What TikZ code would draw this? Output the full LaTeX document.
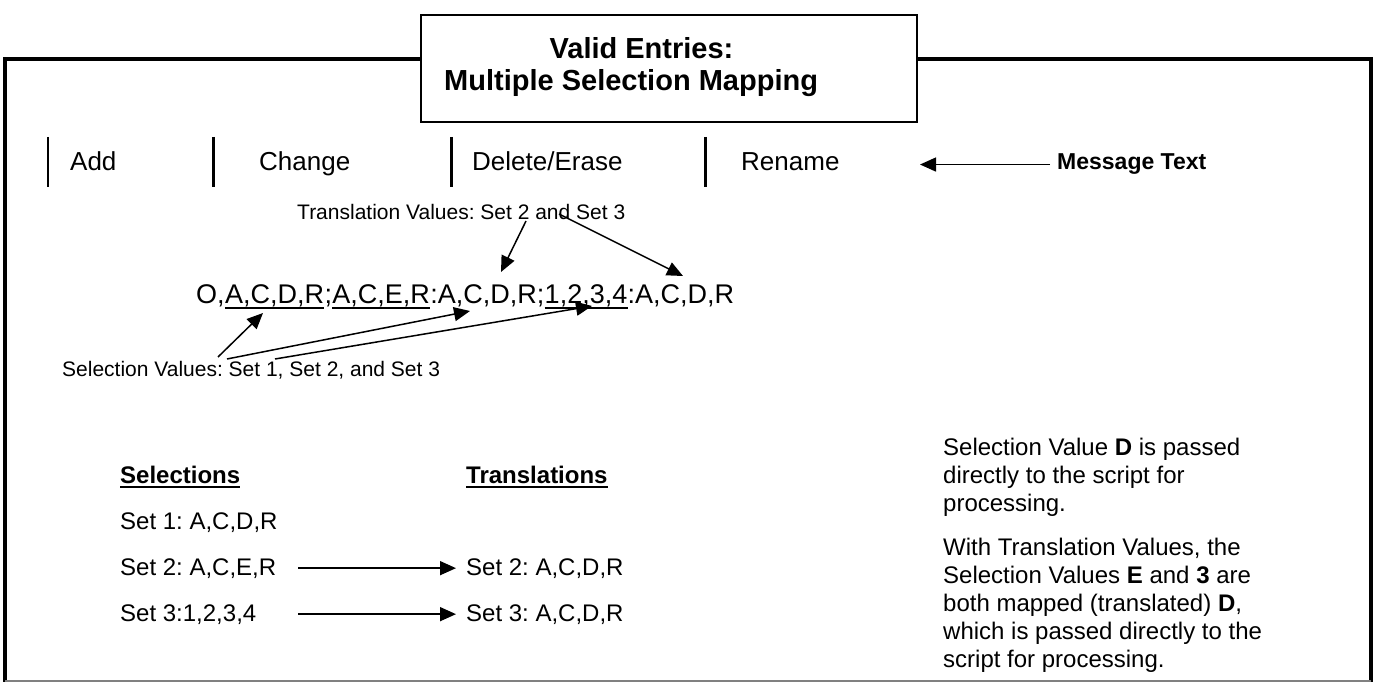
\documentclass[tikz,border=0pt]{standalone}
\usepackage{fontspec}
\setmainfont{Liberation Sans}
\usetikzlibrary{arrows.meta}
\frenchspacing
\begin{document}
\begin{tikzpicture}[x=1pt,y=-1pt,
  txt/.style={inner sep=0pt, anchor=base west},
  fml/.style={txt, font=\fontsize{27}{32}\selectfont},
  row/.style={txt, font=\fontsize{26}{31}\selectfont},
  lbl/.style={txt, font=\fontsize{21}{25}\selectfont},
  body/.style={txt, font=\fontsize{24}{28}\selectfont},
  ttl/.style={inner sep=0pt, anchor=base, font=\bfseries\fontsize{29}{33}\selectfont},
  arr/.style={-{Triangle[length=16pt,width=14pt]}, line width=1.5pt},
  frame/.style={line width=3.5pt},
  bar/.style={line width=3pt},
  uline/.style={line width=1.8pt}]
\useasboundingbox (0,0) rectangle (1377,682);
% outer frame
\draw[frame] (421,59) -- (5,59) -- (5,684);
\draw[frame] (917,59) -- (1371,59) -- (1371,684);
\draw[line width=1.5pt, gray] (5,681) -- (1371,681);
% title box
\node[draw, line width=2pt, fill=white, minimum width=496pt, minimum height=107pt, inner sep=0pt] (title) at (669,68.5) {};
\node[ttl] (t1) at (641.5,59) {Valid Entries:};
\node[ttl, anchor=base west] (t2) at (444,91) {Multiple Selection Mapping};
% top row
\draw[line width=2pt] (48,137) -- (48,187);
\draw[bar] (213,137) -- (213,187);
\draw[bar] (451,137) -- (451,187);
\draw[bar] (705,137) -- (705,187);
\node[row] (add) at (70,171) {Add};
\node[row] (chg) at (259,171) {Change};
\node[row] (del) at (472,171) {Delete/Erase};
\node[row] (ren) at (741,171) {Rename};
\node[txt, font=\bfseries\fontsize{23}{27}\selectfont] (msg) at (1057,170) {Message Text};
\coordinate (mtip) at (920,161);
\draw[arr] ([xshift=-7pt]msg.west) -- (mtip |- msg.west);
% translation label
\node[lbl] (tl) at (297,219) {Translation Values: Set 2 and Set 3};
% formula
\node[fml] (f1) at (196,303) {O,};
\node[fml] (f2) at (f1.base east) {A,C,D,R};
\node[fml] (f3) at (f2.base east) {;};
\node[fml] (f4) at (f3.base east) {A,C,E,R};
\node[fml] (f5) at (f4.base east) {:A,C,D,R;};
\node[fml] (f6) at (f5.base east) {1,2,3,4};
\node[fml] (f7) at (f6.base east) {:A,C,D,R};
\draw[uline] ([yshift=-5pt]f2.base west) -- ([yshift=-5pt]f2.base east);
\draw[uline] ([yshift=-5pt]f4.base west) -- ([yshift=-5pt]f4.base east);
\draw[uline] ([yshift=-5pt]f6.base west) -- ([yshift=-5pt]f6.base east);
% translation arrows
\coordinate (taS) at (526,221);
\coordinate (taT) at (501,272);
\coordinate (tbS) at (559,214);
\coordinate (tbT) at (683,276);
\draw[arr] (taS) -- (taT);
\draw[arr] (tbS) -- (tbT);
% selection label and arrows
\node[lbl] (sl) at (62,376) {Selection Values: Set 1, Set 2, and Set 3};
\coordinate (s1S) at (218,357);
\coordinate (s1T) at (263,313);
\coordinate (s2S) at (227,359);
\coordinate (s2T) at (470,311);
\coordinate (s3S) at (275,359);
\coordinate (s3T) at (592,306);
\draw[arr] (s1S) -- (s1T);
\draw[arr] (s2S) -- (s2T);
\draw[arr] (s3S) -- (s3T);
% lower table
\node[body, font=\bfseries\fontsize{24}{28}\selectfont] (hs) at (120,483) {Selections};
\node[body, font=\bfseries\fontsize{24}{28}\selectfont] (ht) at (466,483) {Translations};
\draw[uline] ([yshift=-4pt]hs.base west) -- ([yshift=-4pt]hs.base east);
\draw[uline] ([yshift=-4pt]ht.base west) -- ([yshift=-4pt]ht.base east);
\node[body] (set1) at (120,529) {Set 1: A,C,D,R};
\node[body] (set2) at (120,575) {Set 2: A,C,E,R};
\node[body] (set3) at (120,621) {Set 3:1,2,3,4};
\node[body] (tr2) at (466,575) {Set 2: A,C,D,R};
\node[body] (tr3) at (466,621) {Set 3: A,C,D,R};
\draw[arr] ([xshift=22pt]set2.east) -- ([xshift=-10pt]tr2.west |- set2.east);
\draw[arr] ([xshift=22pt]set2.east |- set3.east) -- ([xshift=-10pt]tr3.west |- set3.east);
% notes
\node[body] (n1) at (943,455) {Selection Value \textbf{D} is passed};
\node[body] (n2) at (943,483) {directly to the script for};
\node[body] (n3) at (943,511) {processing.};
\node[body] (n4) at (943,555) {With Translation Values, the};
\node[body] (n5) at (943,583) {Selection Values \textbf{E} and \textbf{3} are};
\node[body] (n6) at (943,611) {both mapped (translated) \textbf{D},};
\node[body] (n7) at (943,639) {which is passed directly to the};
\node[body] (n8) at (943,667) {script for processing.};
\end{tikzpicture}
\end{document}
